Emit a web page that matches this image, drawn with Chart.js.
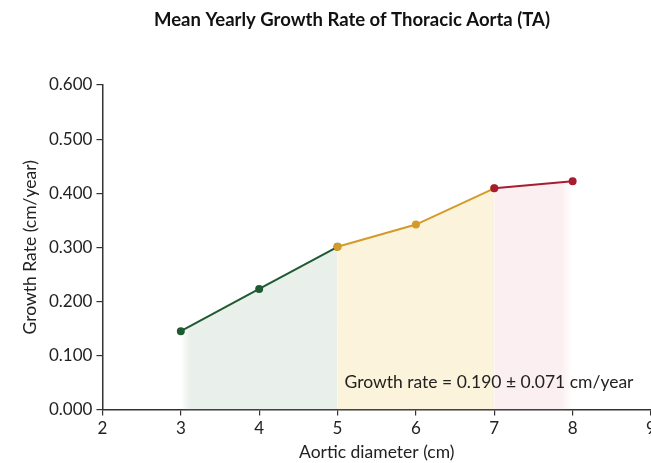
<!DOCTYPE html>
<html>
<head>
<meta charset="utf-8">
<script src="https://cdn.jsdelivr.net/npm/chart.js@4/dist/chart.umd.min.js"></script>
<style>
  html, body { margin: 0; padding: 0; background: #fff; overflow: hidden; }
  #wrap { width: 662px; height: 463px; position: relative; }
</style>
</head>
<body>
<div id="wrap"><canvas id="growthChart"></canvas></div>
<script>
// Data
const diameters = [3, 4, 5, 6, 7, 8]; // Aortic diameter (cm)
const growthRates = [0.145, 0.223, 0.301, 0.342, 0.409, 0.422]; // cm/year
const segmentRanges = [[0, 2], [2, 4], [4, 5]]; // index ranges: green, yellow, red
const xTicks = [2, 3, 4, 5, 6, 7, 8, 9];
const yTicks = [0, 0.1, 0.2, 0.3, 0.4, 0.5, 0.6];
const chartTitle = 'Mean Yearly Growth Rate of Thoracic Aorta (TA)';
const noteText = 'Growth rate = 0.190 \u00b1 0.071 cm/year';

const lineColors = ['#1f5a32', '#d49a2a', '#a81c32'];
const fillColors = ['rgba(222,232,224,0.65)', 'rgba(251,238,205,0.7)', 'rgba(249,228,231,0.6)'];
const FONT = 'Lato, "Noto Sans", sans-serif';

// Horizontal gradient fill; first segment fades in, last segment fades out
function makeFill(i) {
  return function (context) {
    const chart = context.chart;
    const { chartArea } = chart;
    if (!chartArea) return fillColors[i];
    const xs = chart.scales.x;
    const [a, b] = segmentRanges[i];
    const x0 = xs.getPixelForValue(diameters[a]);
    const x1 = xs.getPixelForValue(diameters[b]);
    const g = chart.ctx.createLinearGradient(x0, 0, x1, 0);
    const clear = fillColors[i].replace(/[\d.]+\)$/, '0)');
    if (i === 0) {
      g.addColorStop(0, clear);
      g.addColorStop(0.06, fillColors[i]);
      g.addColorStop(1, fillColors[i]);
    } else if (i === segmentRanges.length - 1) {
      g.addColorStop(0, fillColors[i]);
      g.addColorStop(0.85, fillColors[i]);
      g.addColorStop(1, clear);
    } else {
      g.addColorStop(0, fillColors[i]);
      g.addColorStop(1, fillColors[i]);
    }
    return g;
  };
}

const datasets = segmentRanges.map(([a, b], i) => ({
  label: 'segment ' + (i + 1),
  data: diameters.slice(a, b + 1).map((d, k) => ({ x: d, y: growthRates[a + k] })),
  borderColor: lineColors[i],
  backgroundColor: makeFill(i),
  pointBackgroundColor: lineColors[i],
  pointBorderColor: lineColors[i],
  pointRadius: 3,
  borderWidth: 2,
  fill: 'origin',
  tension: 0,
  order: segmentRanges.length - i, // later segments drawn on top
}));

// Title and note text drawn on the canvas
const textPlugin = {
  id: 'textPlugin',
  afterDraw(chart) {
    const ctx = chart.ctx;
    ctx.save();
    ctx.fillStyle = '#111';
    ctx.font = 'bold 18.5px ' + FONT;
    ctx.textAlign = 'center';
    ctx.textBaseline = 'middle';
    ctx.fillText(chartTitle, 352, 20);

    const xs = chart.scales.x, ys = chart.scales.y;
    ctx.fillStyle = '#222';
    ctx.font = '17.5px ' + FONT;
    ctx.textAlign = 'left';
    ctx.fillText(noteText, xs.getPixelForValue(5.09), ys.getPixelForValue(0.05));
    ctx.restore();
  }
};

new Chart(document.getElementById('growthChart'), {
  type: 'line',
  data: { datasets },
  options: {
    responsive: true,
    maintainAspectRatio: false,
    animation: false,
    layout: { padding: { top: 85, left: 20, right: 11, bottom: 0 } },
    plugins: {
      legend: { display: false },
      tooltip: { enabled: false },
    },
    scales: {
      x: {
        type: 'linear',
        min: 2,
        max: 9,
        afterBuildTicks: (scale) => { scale.ticks = xTicks.map(v => ({ value: v })); },
        ticks: { color: '#222', font: { family: FONT, size: 17 }, padding: 3 },
        grid: { display: true, drawOnChartArea: false, drawTicks: true, tickLength: 6, color: '#333', lineWidth: 1.2 },
        border: { display: true, color: '#333', width: 1.5 },
        title: { display: true, text: 'Aortic diameter (cm)', color: '#222', font: { family: FONT, size: 17.5 }, padding: { top: 0, bottom: 0 } },
      },
      y: {
        min: 0,
        max: 0.6,
        afterBuildTicks: (scale) => { scale.ticks = yTicks.map(v => ({ value: v })); },
        ticks: { color: '#222', font: { family: FONT, size: 17 }, padding: 4, callback: (v) => Number(v).toFixed(3) },
        grid: { display: true, drawOnChartArea: false, drawTicks: true, tickLength: 6, color: '#333', lineWidth: 1.2 },
        border: { display: true, color: '#333', width: 1.5 },
        title: { display: true, text: 'Growth Rate (cm/year)', color: '#222', font: { family: FONT, size: 17.5 }, padding: { top: 0, bottom: 4 } },
      },
    },
  },
  plugins: [textPlugin],
});
</script>
</body>
</html>
